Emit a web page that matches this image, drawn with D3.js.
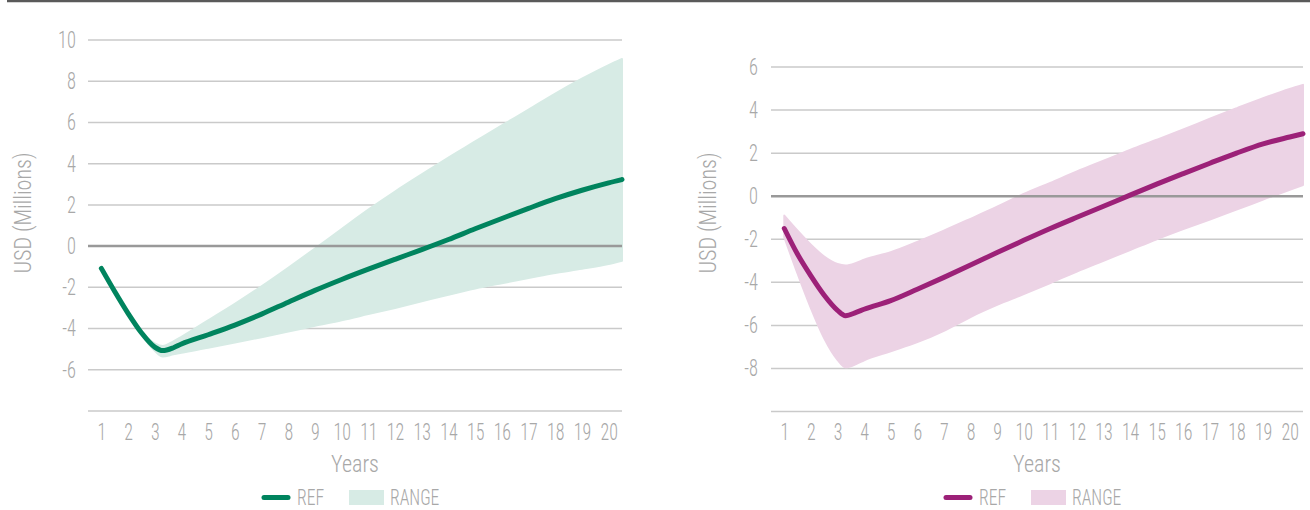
<!DOCTYPE html>
<html>
<head>
<meta charset="utf-8">
<script src="https://cdn.jsdelivr.net/npm/d3@7"></script>
<style>
  body { margin: 0; background: #fff; }
  text { font-family: "Roboto Condensed", "Roboto", sans-serif; font-weight: 300; fill: #a8a8a8; }
</style>
</head>
<body>
<div id="my_dataviz"></div>
<script>
// x tick labels
var years = [1, 2, 3, 4, 5, 6, 7, 8, 9, 10, 11, 12, 13, 14, 15, 16, 17, 18, 19, 20];
var steps = [1, 1.5, 2, 2.5, 3, 3.3, 3.7, 4, 5, 6, 7, 8, 9, 10, 11, 12, 13, 14, 15, 16, 17, 18, 19, 20, 20.5];

// left chart (green)
var leftRef  = [-1.08, -2.2, -3.26, -4.2, -4.9, -5.07, -4.93, -4.75, -4.3, -3.83, -3.3, -2.72, -2.15, -1.62, -1.12, -0.64, -0.17, 0.32, 0.84, 1.34, 1.83, 2.3, 2.71, 3.07, 3.23];
var leftHigh = [-1.08, -2.2, -3.26, -4.15, -4.72, -4.85, -4.62, -4.4, -3.6, -2.8, -1.95, -1.05, -0.12, 0.83, 1.77, 2.65, 3.48, 4.3, 5.08, 5.86, 6.62, 7.4, 8.12, 8.78, 9.08];
var leftLow  = [-1.08, -2.2, -3.28, -4.3, -5.08, -5.36, -5.25, -5.17, -4.93, -4.68, -4.42, -4.15, -3.87, -3.6, -3.3, -3.0, -2.68, -2.36, -2.06, -1.8, -1.55, -1.3, -1.1, -0.87, -0.71];
var leftGrid = [-8, -6, -4, -2, 0, 2, 4, 6, 8, 10];
var leftTicks = [-6, -4, -2, 0, 2, 4, 6, 8, 10];

// right chart (magenta)
var rightRef  = [-1.5, -2.7, -3.7, -4.6, -5.3, -5.55, -5.4, -5.25, -4.85, -4.32, -3.77, -3.2, -2.62, -2.05, -1.5, -0.98, -0.47, 0.05, 0.56, 1.05, 1.53, 2.0, 2.43, 2.75, 2.9];
var rightHigh = [-0.9, -1.6, -2.25, -2.8, -3.15, -3.22, -3.1, -2.95, -2.6, -2.12, -1.6, -1.05, -0.49, 0.1, 0.62, 1.15, 1.65, 2.15, 2.62, 3.1, 3.6, 4.08, 4.55, 4.98, 5.17];
var rightLow  = [-1.9, -3.6, -5.2, -6.6, -7.6, -7.95, -7.8, -7.62, -7.2, -6.78, -6.25, -5.61, -5.05, -4.55, -4.03, -3.5, -3.0, -2.5, -2.0, -1.53, -1.08, -0.62, -0.16, 0.3, 0.52];
var rightGrid = [-10, -8, -6, -4, -2, 0, 2, 4, 6];
var rightTicks = [-8, -6, -4, -2, 0, 2, 4, 6];

var svg = d3.select("#my_dataviz")
  .append("svg")
  .attr("width", 1310)
  .attr("height", 510);

// dark rule across the top
svg.append("line")
  .attr("x1", 7).attr("x2", 1310)
  .attr("y1", 1).attr("y2", 1)
  .attr("stroke", "#5a5a5a")
  .attr("stroke-width", 2.5);

// the original font is a condensed one, so squeeze Roboto horizontally
function label(x, y, txt, k, anchor) {
  return svg.append("text")
    .attr("text-anchor", anchor || "start")
    .attr("transform", "translate(" + x + "," + y + ") scale(" + k + ",1)")
    .text(txt)
    .style("font-size", "23px");
}

function drawChart(c) {
  var x = d3.scaleLinear().domain([0.5, 20.5]).range([c.left, c.right]);
  var y = d3.scaleLinear().domain(c.yDomain).range([c.bottom, c.top]);

  var data = steps.map(function (t, i) {
    return { t: t, ref: c.ref[i], hi: c.high[i], lo: c.low[i] };
  });

  // gridlines
  svg.append("g")
    .selectAll("line")
    .data(c.grid)
    .enter()
    .append("line")
    .attr("x1", c.left).attr("x2", c.right)
    .attr("y1", function (d) { return y(d); })
    .attr("y2", function (d) { return y(d); })
    .attr("stroke", "#cacaca")
    .attr("stroke-width", 1.5);

  // range band
  var area = d3.area()
    .x(function (d) { return x(d.t); })
    .y0(function (d) { return y(d.lo); })
    .y1(function (d) { return y(d.hi); })
    .curve(d3.curveMonotoneX);
  svg.append("path")
    .datum(data)
    .attr("d", area)
    .attr("fill", c.light)
    .attr("stroke", c.light)
    .attr("stroke-width", 2)
    .attr("stroke-linejoin", "round");

  // zero line
  svg.append("line")
    .attr("x1", c.left).attr("x2", c.right)
    .attr("y1", y(0)).attr("y2", y(0))
    .attr("stroke", "#999")
    .attr("stroke-width", 2.5);

  // ref line
  var line = d3.line()
    .x(function (d) { return x(d.t); })
    .y(function (d) { return y(d.ref); })
    .curve(d3.curveMonotoneX);
  svg.append("path")
    .datum(data)
    .attr("d", line)
    .attr("fill", "none")
    .attr("stroke", c.dark)
    .attr("stroke-width", 5)
    .attr("stroke-linecap", "round")
    .attr("stroke-linejoin", "round");

  // Y axis labels
  svg.append("g")
    .attr("transform", "translate(" + c.labelX + ",0)")
    .call(d3.axisLeft(y).tickValues(c.ticks).tickSize(0).tickPadding(0).tickFormat(function (d) { return String(d); }))
    .call(function (g) { g.select(".domain").remove(); })
    .selectAll("text")
    .attr("transform", "scale(0.8,1)")
    .style("font-size", "23px");

  // X axis labels
  svg.append("g")
    .attr("transform", "translate(0,424)")
    .call(d3.axisBottom(x).tickValues(years).tickSize(0).tickPadding(0))
    .call(function (g) { g.select(".domain").remove(); })
    .selectAll("text")
    .attr("transform", "scale(0.78,1)")
    .style("font-size", "23px");

  var mid = (c.left + c.right) / 2;

  // axis titles
  label(mid, 471.5, "Years", 0.96, "middle");
  svg.append("text")
    .attr("text-anchor", "middle")
    .attr("transform", "translate(" + c.titleX + ",213) rotate(-90) scale(0.96,1)")
    .text("USD (Millions)")
    .style("font-size", "23px");

  // legend
  var lx = mid - 91;
  svg.append("line")
    .attr("x1", lx).attr("x2", lx + 24)
    .attr("y1", 497.5).attr("y2", 497.5)
    .attr("stroke", c.dark)
    .attr("stroke-width", 5)
    .attr("stroke-linecap", "round");
  label(lx + 33, 504.5, "REF", 0.8).style("font-size", "22px");
  svg.append("rect")
    .attr("x", lx + 85).attr("y", 490)
    .attr("width", 35).attr("height", 15)
    .attr("fill", c.light);
  label(lx + 126, 504.5, "RANGE", 0.8).style("font-size", "22px");
}

drawChart({
  left: 88, right: 622, top: 40, bottom: 411,
  yDomain: [-8, 10], grid: leftGrid, ticks: leftTicks,
  labelX: 76, titleX: 31,
  ref: leftRef, high: leftHigh, low: leftLow,
  dark: "#00845e", light: "#d7ebe5"
});

drawChart({
  left: 771, right: 1303, top: 67, bottom: 411.5,
  yDomain: [-10, 6], grid: rightGrid, ticks: rightTicks,
  labelX: 758, titleX: 716,
  ref: rightRef, high: rightHigh, low: rightLow,
  dark: "#9c2178", light: "#ecd3e5"
});
</script>
</body>
</html>
